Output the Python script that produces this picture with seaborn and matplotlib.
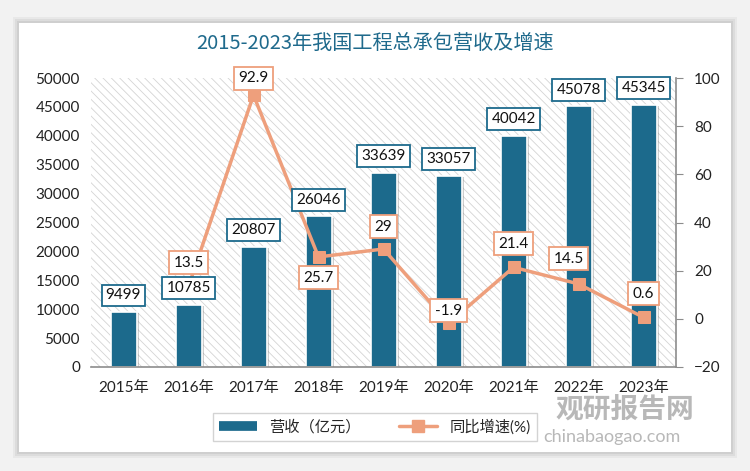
import matplotlib
matplotlib.use("Agg")
import matplotlib.pyplot as plt
import matplotlib.patheffects as pe
from matplotlib.patches import Rectangle
from matplotlib.lines import Line2D
import seaborn as sns
import pandas as pd

years = ["2015年", "2016年", "2017年", "2018年", "2019年", "2020年", "2021年", "2022年", "2023年"]
revenue = [9499, 10785, 20807, 26046, 33639, 33057, 40042, 45078, 45345]
growth = [None, 13.5, 92.9, 25.7, 29, -1.9, 21.4, 14.5, 0.6]
growth_labels = ["", "13.5", "92.9", "25.7", "29", "-1.9", "21.4", "14.5", "0.6"]
# label offsets for growth boxes (points)
growth_offsets = [(0, 0), (0, 17), (0, 12), (0, -15), (0, 16), (0, 9), (0, 17), (-7, 18), (0, 17)]

BAR = "#1C6A8C"
LINE = "#EE9F7C"
FONT = ["Lato", "Noto Sans CJK SC", "DejaVu Sans"]

sns.set_style("white")
plt.rcParams["font.family"] = FONT
plt.rcParams["hatch.linewidth"] = 0.6
plt.rcParams["hatch.color"] = "#d4d4d4"

df = pd.DataFrame({"year": years, "revenue": revenue, "growth": growth})

fig = plt.figure(figsize=(7.5, 4.71), dpi=100, facecolor="#f2f2f2")

# card with soft shadow
for i, a in enumerate([0.04, 0.05, 0.06]):
    d = (3 - i) * 2
    fig.patches.append(Rectangle(((19 - d) / 750, 1 - (452 + d) / 471), (712 + 2 * d) / 750,
                                 (429 + 2 * d) / 471, transform=fig.transFigure,
                                 facecolor="black", alpha=a, edgecolor="none", zorder=-3))
fig.patches.append(Rectangle((19 / 750, 1 - 452 / 471), 712 / 750, 429 / 471,
                             transform=fig.transFigure, facecolor="white",
                             edgecolor="none", zorder=-2))

ax = fig.add_axes([91 / 750, 1 - 367 / 471, 585 / 750, 289 / 471])
ax.set_facecolor("none")
ax.add_patch(Rectangle((0, 0), 1, 1, transform=ax.transAxes, facecolor="white",
                       hatch="\\\\\\\\", edgecolor="#d4d4d4", linewidth=0, zorder=0))

sns.barplot(data=df, x="year", y="revenue", color=BAR, width=0.4, saturation=1,
            edgecolor="white", linewidth=1.2, ax=ax, zorder=2)
for p in ax.patches[1:]:
    p.set_path_effects([pe.SimplePatchShadow(offset=(2, -1), shadow_rgbFace="#777777", alpha=0.35),
                        pe.Normal()])

ax.set_ylim(0, 50000)
ax.set_yticks(range(0, 50001, 5000))
ax.set_xlim(-0.5, 8.5)
ax.set_xlabel("")
ax.set_ylabel("")
ax.tick_params(axis="y", length=0, labelsize=11, pad=8, labelcolor="#222222")
ax.tick_params(axis="x", length=0, labelsize=11, pad=10, labelcolor="#222222")
for s in ["left", "top", "right"]:
    ax.spines[s].set_visible(False)
ax.spines["bottom"].set_color("#8c8c8c")
ax.spines["bottom"].set_linewidth(1.2)

ax2 = ax.twinx()
sns.lineplot(data=df, x="year", y="growth", color=LINE, linewidth=2.5, marker="s",
             markersize=8, markeredgecolor=LINE, ax=ax2, zorder=4)
ax2.set_ylim(-20, 100)
ax2.set_yticks(range(-20, 101, 20))
ax2.set_xlabel("")
ax2.set_ylabel("")
ax2.set_xlim(-0.5, 8.5)
for s in ["left", "top", "bottom"]:
    ax2.spines[s].set_visible(False)
ax2.spines["right"].set_color("#8c8c8c")
ax2.spines["right"].set_linewidth(1.2)
ax2.tick_params(axis="y", direction="out", length=5, color="#8c8c8c", labelsize=11,
                pad=8, labelcolor="#222222")

# bar labels sit above the line, so they go on ax2 using ax's data coords
for i, v in enumerate(revenue):
    ax2.annotate(str(v), (i, v), xycoords=ax.transData, xytext=(0, 12),
                 textcoords="offset points", ha="center", va="center", fontsize=11,
                 color="#111111", zorder=6,
                 bbox=dict(boxstyle="square,pad=0.25", facecolor="white",
                           edgecolor=BAR, linewidth=1.3))

for i, (v, lab) in enumerate(zip(growth, growth_labels)):
    if v is None:
        continue
    ax2.annotate(lab, (i, v), xytext=growth_offsets[i], textcoords="offset points",
                 ha="center", va="center", fontsize=11, color="#111111", zorder=7,
                 bbox=dict(boxstyle="square,pad=0.3", facecolor="white",
                           edgecolor=LINE, linewidth=1.3))

fig.text(0.5, 1 - 43 / 471, "2015-2023年我国工程总承包营收及增速", ha="center", va="center",
         fontsize=14.5, color="#1F6A8C", family=["Noto Sans CJK SC"], zorder=5)

handles = [Line2D([0], [0], color=BAR, linewidth=7, solid_capstyle="butt"),
           Line2D([0], [0], color=LINE, linewidth=2.5, marker="s", markersize=8)]
leg = fig.legend(handles, ["营收（亿元）", "同比增速(%)"], loc="center",
                 bbox_to_anchor=(375 / 750, 1 - 427 / 471), ncol=2, frameon=True,
                 fontsize=11, handlelength=2.5, columnspacing=2.5, fancybox=False,
                 borderpad=0.4)
leg.get_frame().set_edgecolor("#c8c8c8")
leg.get_frame().set_linewidth(1)

# watermark
fig.text(625 / 750, 1 - 410 / 471, "观研报告网", ha="center", va="center", fontsize=20,
         fontweight="bold", color="#9a9a9a", alpha=0.7, family=["Noto Sans CJK SC"])
fig.text(612 / 750, 1 - 437 / 471, "chinabaogao.com", ha="center", va="center", fontsize=13,
         color="#9a9a9a", alpha=0.7)

fig.savefig("out.png", dpi=100, facecolor=fig.get_facecolor())
